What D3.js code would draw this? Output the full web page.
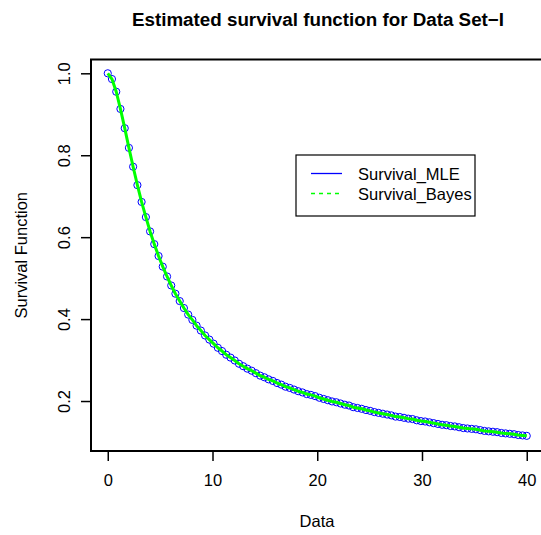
<!DOCTYPE html>
<html>
<head>
<meta charset="utf-8">
<script src="https://cdn.jsdelivr.net/npm/d3@7"></script>
<style>
  html, body { margin: 0; padding: 0; background: #fff; }
  svg { display: block; font-family: "Liberation Sans", Arial, Helvetica, sans-serif; }
</style>
</head>
<body>
<svg id="chart" width="541" height="535"></svg>
<script>
const dataX = [0,0.40,0.81,1.21,1.62,2.02,2.42,2.83,3.23,3.64,4.04,4.44,4.85,5.25,5.66,6.06,6.46,6.87,7.27,7.68,
  8.08,8.48,8.89,9.29,9.70,10.10,10.51,10.91,11.31,11.72,12.12,12.53,12.93,13.33,13.74,14.14,14.55,14.95,15.35,15.76,
  16.16,16.57,16.97,17.37,17.78,18.18,18.59,18.99,19.39,19.80,20.20,20.61,21.01,21.41,21.82,22.22,22.63,23.03,23.43,23.84,
  24.24,24.65,25.05,25.45,25.86,26.26,26.67,27.07,27.47,27.88,28.28,28.69,29.09,29.49,29.90,30.30,30.71,31.11,31.52,31.92,
  32.32,32.73,33.13,33.54,33.94,34.34,34.75,35.15,35.56,35.96,36.36,36.77,37.17,37.58,37.98,38.38,38.79,39.19,39.60,40];
const survivalMLE = [1.000,0.986,0.955,0.913,0.866,0.818,0.772,0.727,0.686,0.649,0.614,0.583,0.554,0.528,0.504,0.482,0.462,0.444,0.427,0.411,
  0.398,0.384,0.372,0.360,0.350,0.340,0.330,0.322,0.313,0.306,0.299,0.291,0.285,0.279,0.274,0.268,0.262,0.258,0.253,0.249,
  0.244,0.240,0.235,0.232,0.228,0.224,0.221,0.217,0.215,0.212,0.208,0.205,0.202,0.199,0.197,0.194,0.191,0.189,0.185,0.183,
  0.181,0.178,0.176,0.173,0.171,0.169,0.167,0.165,0.162,0.161,0.159,0.157,0.156,0.153,0.151,0.150,0.148,0.146,0.144,0.142,
  0.141,0.139,0.138,0.136,0.134,0.133,0.132,0.131,0.129,0.127,0.126,0.125,0.124,0.122,0.121,0.120,0.119,0.117,0.116,0.115];
const survivalBayes = [1.000,0.986,0.955,0.913,0.866,0.818,0.772,0.727,0.686,0.649,0.614,0.583,0.554,0.528,0.504,0.482,0.462,0.444,0.427,0.411,
  0.398,0.384,0.372,0.360,0.350,0.340,0.330,0.322,0.313,0.306,0.299,0.291,0.285,0.279,0.274,0.268,0.262,0.258,0.253,0.249,
  0.244,0.240,0.235,0.232,0.228,0.224,0.221,0.217,0.215,0.212,0.208,0.205,0.202,0.199,0.197,0.194,0.191,0.189,0.185,0.183,
  0.181,0.178,0.176,0.173,0.171,0.169,0.167,0.165,0.162,0.161,0.159,0.157,0.156,0.153,0.151,0.150,0.148,0.146,0.144,0.142,
  0.141,0.139,0.138,0.136,0.134,0.133,0.132,0.131,0.129,0.127,0.126,0.125,0.124,0.122,0.121,0.120,0.119,0.117,0.116,0.115];
const xTicks = [0, 10, 20, 30, 40];
const yTicks = [0.2, 0.4, 0.6, 0.8, 1.0];
const seriesNames = ["Survival_MLE", "Survival_Bayes"];
const titleText = "Estimated survival function for Data Set\u2212I";
const xLabel = "Data";
const yLabel = "Survival Function";

const svg = d3.select("#chart");
const box = { left: 91, right: 543.5, top: 59.5, bottom: 451 };

const x = d3.scaleLinear().domain([-1.6, 41.6]).range([box.left, box.right]);
const y = d3.scaleLinear().domain([0.078, 1.0337]).range([box.bottom, box.top]);

// plot box
svg.append("rect")
  .attr("x", box.left).attr("y", box.top)
  .attr("width", box.right - box.left).attr("height", box.bottom - box.top)
  .attr("fill", "none").attr("stroke", "#000").attr("stroke-width", 2);

// x axis
const gx = svg.append("g").attr("transform", `translate(0,${box.bottom})`)
  .call(d3.axisBottom(x).tickValues(xTicks).tickFormat(d3.format("d")).tickSize(10).tickSizeOuter(0));
gx.select(".domain").remove();
gx.selectAll(".tick line").attr("stroke", "#000").attr("stroke-width", 1.5);
gx.selectAll(".tick text").attr("y", 35).attr("dy", 0)
  .attr("font-size", 16.5).attr("fill", "#000").attr("font-family", "Liberation Sans, Arial, sans-serif");

// y axis
const gy = svg.append("g").attr("transform", `translate(${box.left},0)`)
  .call(d3.axisLeft(y).tickValues(yTicks).tickFormat(d3.format(".1f")).tickSize(10).tickSizeOuter(0));
gy.select(".domain").remove();
gy.selectAll(".tick line").attr("stroke", "#000").attr("stroke-width", 1.5);
gy.selectAll(".tick text")
  .attr("x", 0).attr("y", 0).attr("dy", 0)
  .attr("text-anchor", "middle")
  .attr("transform", "translate(-21,0) rotate(-90)")
  .attr("font-size", 16.5).attr("fill", "#000").attr("font-family", "Liberation Sans, Arial, sans-serif");

// MLE points
const pts = dataX.map((d, i) => ({ x: d, m: survivalMLE[i], b: survivalBayes[i] }));
svg.append("g").selectAll("circle").data(pts).join("circle")
  .attr("cx", d => x(d.x)).attr("cy", d => y(d.m)).attr("r", 3.6)
  .attr("fill", "none").attr("stroke", "#0000FF").attr("stroke-width", 1);

// Bayes line
svg.append("path").datum(pts)
  .attr("d", d3.line().x(d => x(d.x)).y(d => y(d.b)))
  .attr("fill", "none").attr("stroke", "#00FF00").attr("stroke-width", 3)
  .attr("stroke-linejoin", "round");

// title and labels
svg.append("text").attr("x", 318).attr("y", 26).attr("text-anchor", "middle")
  .attr("font-size", 18.8).attr("font-weight", "bold").text(titleText);
svg.append("text").attr("x", 317).attr("y", 527).attr("text-anchor", "middle")
  .attr("font-size", 16.5).text(xLabel);
svg.append("text").attr("transform", `translate(27,${(box.top + box.bottom) / 2}) rotate(-90)`)
  .attr("text-anchor", "middle").attr("font-size", 16.5).text(yLabel);

// legend
const lg = svg.append("g");
lg.append("rect").attr("x", 296).attr("y", 155).attr("width", 179).attr("height", 61)
  .attr("fill", "#fff").attr("stroke", "#000").attr("stroke-width", 1.2);
const legendItems = [
  { name: seriesNames[0], color: "#0000FF", dash: null, ly: 173.5 },
  { name: seriesNames[1], color: "#00FF00", dash: "4,4", ly: 193.5 }
];
legendItems.forEach(it => {
  lg.append("line").attr("x1", 311).attr("x2", 342).attr("y1", it.ly).attr("y2", it.ly)
    .attr("stroke", it.color).attr("stroke-width", 1.3)
    .attr("stroke-dasharray", it.dash);
  lg.append("text").attr("x", 358).attr("y", it.ly + 6).attr("font-size", 16.5).text(it.name);
});
</script>
</body>
</html>
